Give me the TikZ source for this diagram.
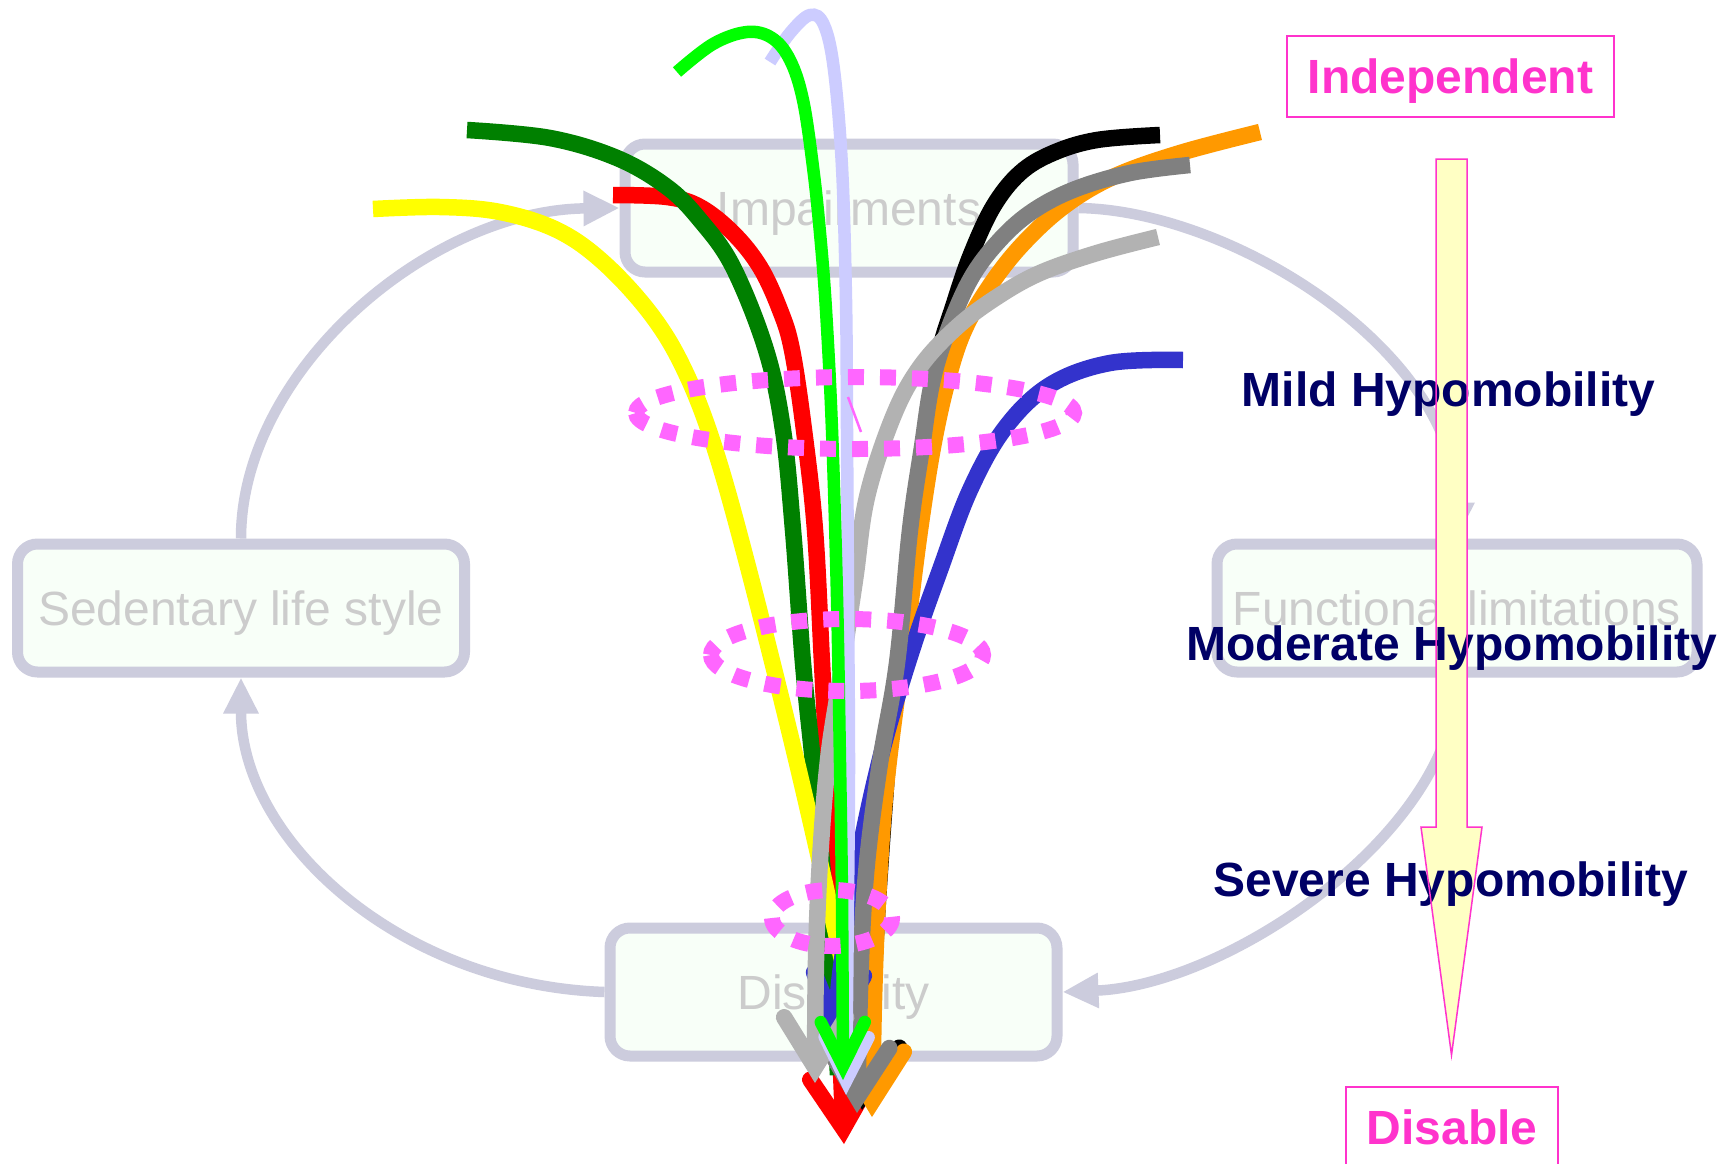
\documentclass[tikz,border=0pt]{standalone}
\usepackage{fontspec}
\setmainfont{Liberation Sans}
\usetikzlibrary{arrows.meta}

\definecolor{cycline}{HTML}{CCCCDD}
\definecolor{boxfill}{HTML}{F8FFF8}
\definecolor{boxtext}{HTML}{CCCCCC}
\definecolor{levelnavy}{HTML}{000066}
\definecolor{tagpink}{HTML}{FF33CC}
\definecolor{ringpink}{HTML}{FF66FF}
\definecolor{scalefill}{HTML}{FFFFC4}
\definecolor{pathyellow}{HTML}{FFFF00}
\definecolor{pathdkgreen}{HTML}{008000}
\definecolor{pathred}{HTML}{FF0000}
\definecolor{pathgreen}{HTML}{00FF00}
\definecolor{pathlav}{HTML}{CCCCFF}
\definecolor{pathorange}{HTML}{FF9900}
\definecolor{pathgrey}{HTML}{808080}
\definecolor{pathltgrey}{HTML}{B2B2B2}
\definecolor{pathblue}{HTML}{3333CC}

\begin{document}
\begin{tikzpicture}[x=1pt,y=-1pt,
  stage/.style={draw=cycline, line width=11pt, fill=boxfill, rounded corners=20pt,
    minimum height=128pt, text=boxtext, font=\fontsize{48}{56}\selectfont,
    text height=34pt, text depth=0pt, inner sep=0pt},
  cyc/.style={draw=cycline, line width=10.5pt, -{Triangle[length=36pt,width=33pt]}},
  level/.style={text=levelnavy, font=\bfseries\fontsize{48}{56}\selectfont, anchor=base, inner sep=0pt},
  tag/.style={draw=tagpink, line width=1.7pt, text=tagpink, font=\bfseries\fontsize{48}{56}\selectfont,
    text height=34pt, text depth=0pt, inner sep=0pt, minimum height=81pt},
  ring/.style={draw=ringpink, line width=16pt, dash pattern=on 16pt off 16pt},
  flow/.style={line width=16.5pt},
  thinflow/.style={line width=12.5pt},
  tip/.style={-{Straight Barb[length=50pt,width=62pt,line cap=round]}},
  narrowtip/.style={-{Straight Barb[length=52pt,width=50pt,line cap=round]}},
  thintip/.style={-{Straight Barb[length=44pt,width=44pt,line cap=round]}},
]
\useasboundingbox (0,0) rectangle (1733,1163);
\fill[white] (0,0) rectangle (1733,1163);

% the four stages of the cycle
\node[stage, minimum width=447pt] (sed) at (241,608) {Sedentary life style};
\node[stage, minimum width=448pt] (imp) at (849,208) {Impairments};
\node[stage, minimum width=480pt] (func) at (1457,608) {Functional limitations};
\node[stage, minimum width=447pt] (dis) at (833.5,992) {Disability};

% cycle connectors
\draw[cyc] (sed.north) .. controls (241,370) and (430,210) .. (imp.west);
\draw[cyc] (imp.east) .. controls (1230,210) and (1457,350) .. (func.north);
\draw[cyc] (func.south) .. controls (1457,830) and (1230,985) .. (dis.east);
\draw[cyc] (dis.west) .. controls (400,985) and (241,840) .. (sed.south);

% severity scale arrow
\coordinate (scaletip) at (1451.5,1055);
\path[fill=scalefill] (1436,159) -- (1467,159) -- (1467,827) -- (1482,827) -- (scaletip)
  -- (1421,827) -- (1436,827) -- cycle;

% individual trajectories
\draw[flow, pathred, tip] plot[smooth, tension=0.6] coordinates {(613,195) (667,197) (700,207) (733,233) (760,267) (780,310) (792,350) (804,430) (815,530) (822,663) (827,763) (832,863) (838,1000) (844,1144)};
\draw[flow, pathdkgreen] plot[smooth, tension=0.6] coordinates {(467,130) (550,138) (617,158) (667,187) (700,220) (733,267) (766,350) (783,430) (793,530) (803,663) (813,763) (822,863) (832,980) (838,1075)};
\draw[flow, pathyellow] plot[smooth, tension=0.6] coordinates {(373,209) (440,207) (500,212) (557,230) (603,262) (650,313) (683,367) (713,443) (747,563) (797,763) (842,960)};
\draw[flow, black, tip] plot[smooth, tension=0.6] coordinates {(1160,135) (1097,140) (1053,153) (1020,173) (993,207) (970,257) (953,307) (940,350) (928,420) (915,530) (905,630) (893,700) (885,800) (878,900) (872,1000) (862,1110)};
\draw[flow, pathorange, tip] plot[smooth, tension=0.6] coordinates {(1260,132) (1180,153) (1113,177) (1063,207) (1020,247) (987,290) (963,333) (947,383) (933,447) (920,530) (907,630) (897,697) (885,797) (878,900) (874,1000) (872,1117)};
\draw[flow, pathblue, narrowtip] plot[smooth, tension=0.6] coordinates {(1183,360) (1110,363) (1050,385) (1005,428) (970,490) (940,570) (912,650) (885,740) (864,830) (850,910) (840,975) (834,1045)};
\draw[flow, pathgrey, tip] plot[smooth, tension=0.6] coordinates {(1190,165) (1130,173) (1073,190) (1030,213) (997,243) (970,280) (947,333) (932,383) (922,447) (910,530) (897,663) (880,763) (867,863) (861,960) (857,1113)};
\draw[flow, pathltgrey, tip] plot[smooth, tension=0.6] coordinates {(1158,237) (1097,253) (1040,273) (997,297) (957,327) (920,367) (893,417) (867,497) (855,580) (840,680) (828,760) (820,860) (816,960) (815,1083)};
\draw[thinflow, pathlav, thintip] plot[smooth, tension=0.6] coordinates {(770,62) (790,33) (810,15) (824,25) (834,70) (842,167) (846,300) (847,430) (848,597) (849,763) (848,900) (846,1095)};
\draw[thinflow, pathgreen, thintip] plot[smooth, tension=0.6] coordinates {(677,72) (713,44) (747,32) (772,38) (790,60) (803,100) (813,167) (820,233) (826,310) (832,430) (837,597) (840,763) (842,900) (843,1080)};

% dotted rings marking each level
\draw[ring] (636,413) arc [start angle=180, end angle=-180, x radius=219, y radius=36];
\draw[ring] (711,655) arc [start angle=180, end angle=-180, x radius=136, y radius=36];
\draw[ring] (772,918) arc [start angle=180, end angle=-180, x radius=60, y radius=28];
\draw[ringpink, line width=2.5pt] (848,397) -- (861,432);

% level labels
\node[level] (mild) at (1448.5,406) {Mild Hypomobility};
\node[level] (moderate) at (1452,660) {Moderate Hypomobility};
\node[level] (severe) at (1451,896) {Severe Hypomobility};

% outline of the scale arrow
\draw[tagpink, line width=1.5pt] (1436,159) -- (1467,159) -- (1467,827) -- (1482,827) -- (scaletip)
  -- (1421,827) -- (1436,827) -- cycle;

% end points of the scale
\node[tag, minimum width=327pt] (indep) at (1450.5,76.5) {Independent};
\node[tag, minimum width=212pt] (disable) at (1452,1127.5) {Disable};
\end{tikzpicture}
\end{document}
